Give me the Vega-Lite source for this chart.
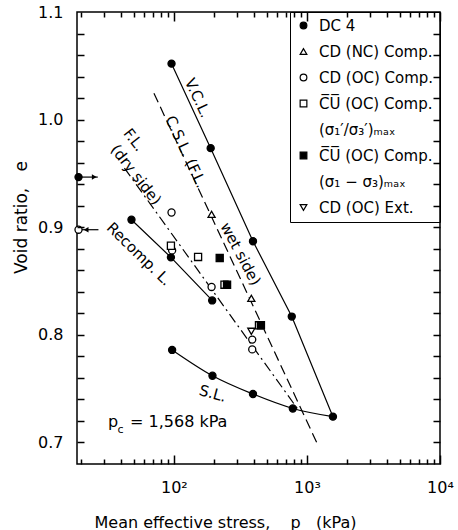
{
  "$schema": "https://vega.github.io/schema/vega-lite/v6.json",
  "width": 363,
  "height": 452,
  "autosize": {"type": "none"},
  "padding": {"left": 77, "top": 12, "right": 18, "bottom": 66},
  "background": "white",
  "config": {
    "view": {"stroke": "black", "strokeWidth": 1.5},
    "axis": {
      "domain": false, "grid": false, "tickColor": "black", "tickWidth": 1.5, "tickOpacity": 1,
      "labelColor": "black", "titleColor": "black", "labelFont": "DejaVu Sans",
      "titleFont": "DejaVu Sans", "titleFontWeight": "normal", "labelFlush": false, "labelOverlap": false
    },
    "legend": {
      "orient": "top-right", "offset": 0, "strokeColor": "black", "padding": 6, "rowPadding": 10,
      "labelFont": "DejaVu Sans", "labelColor": "black", "labelFontSize": 15, "labelOffset": 8,
      "symbolSize": 45, "symbolStrokeWidth": 1.2, "labelLimit": 300
    }
  },
  "datasets": {
    "lines": [
      {"line": "V.C.L.", "p": 96, "e": 1.052},
      {"line": "V.C.L.", "p": 189, "e": 0.9735},
      {"line": "V.C.L.", "p": 393, "e": 0.887},
      {"line": "V.C.L.", "p": 769, "e": 0.817},
      {"line": "V.C.L.", "p": 1568, "e": 0.724},
      {"line": "C.S.L.", "p": 70.8, "e": 1.0245},
      {"line": "C.S.L.", "p": 1220, "e": 0.6966},
      {"line": "F.L.", "p": 42.5, "e": 0.955},
      {"line": "F.L.", "p": 879, "e": 0.7288},
      {"line": "Recomp. L.", "p": 48, "e": 0.907},
      {"line": "Recomp. L.", "p": 95, "e": 0.872},
      {"line": "Recomp. L.", "p": 194, "e": 0.832},
      {"line": "S.L.", "p": 97, "e": 0.786},
      {"line": "S.L.", "p": 195, "e": 0.762},
      {"line": "S.L.", "p": 393, "e": 0.745},
      {"line": "S.L.", "p": 783, "e": 0.7316},
      {"line": "S.L.", "p": 1568, "e": 0.724}
    ],
    "points": [
      {"series": "DC 4", "p": 96, "e": 1.052},
      {"series": "DC 4", "p": 189, "e": 0.9735},
      {"series": "DC 4", "p": 393, "e": 0.887},
      {"series": "DC 4", "p": 769, "e": 0.817},
      {"series": "DC 4", "p": 1568, "e": 0.724},
      {"series": "DC 4", "p": 97, "e": 0.786},
      {"series": "DC 4", "p": 195, "e": 0.762},
      {"series": "DC 4", "p": 393, "e": 0.745},
      {"series": "DC 4", "p": 783, "e": 0.7316},
      {"series": "DC 4", "p": 48, "e": 0.907},
      {"series": "DC 4", "p": 95, "e": 0.872},
      {"series": "DC 4", "p": 194, "e": 0.832},
      {"series": "DC 4", "p": 19.2, "e": 0.9466},
      {"series": "CD (NC) Comp.", "p": 192, "e": 0.912},
      {"series": "CD (NC) Comp.", "p": 382, "e": 0.834},
      {"series": "CD (OC) Comp.", "p": 96, "e": 0.9137},
      {"series": "CD (OC) Comp.", "p": 97, "e": 0.8785},
      {"series": "CD (OC) Comp.", "p": 192, "e": 0.8445},
      {"series": "CD (OC) Comp.", "p": 388, "e": 0.7956},
      {"series": "CD (OC) Comp.", "p": 388, "e": 0.7865},
      {"series": "CD (OC) Comp.", "p": 19.2, "e": 0.8977},
      {"series": "C̅U̅ (OC) Comp. (σ₁′/σ₃′)ₘₐₓ", "p": 95, "e": 0.8828},
      {"series": "C̅U̅ (OC) Comp. (σ₁′/σ₃′)ₘₐₓ", "p": 152, "e": 0.8724},
      {"series": "C̅U̅ (OC) Comp. (σ₁′/σ₃′)ₘₐₓ", "p": 240, "e": 0.8466},
      {"series": "C̅U̅ (OC) Comp. (σ₁′/σ₃′)ₘₐₓ", "p": 436, "e": 0.8089},
      {"series": "C̅U̅ (OC) Comp. (σ₁ − σ₃)ₘₐₓ", "p": 221, "e": 0.8714},
      {"series": "C̅U̅ (OC) Comp. (σ₁ − σ₃)ₘₐₓ", "p": 251, "e": 0.8466},
      {"series": "C̅U̅ (OC) Comp. (σ₁ − σ₃)ₘₐₓ", "p": 451, "e": 0.8089},
      {"series": "CD (OC) Ext.", "p": 382, "e": 0.8033}
    ],
    "arrows": [
      {"marker": "DC 4", "p_from": 19.2, "p_to": 26.8, "p_head": 25.2, "e": 0.9466},
      {"marker": "CD (OC) Comp.", "p_from": 19.2, "p_to": 27.1, "p_head": 21.9, "e": 0.8977}
    ],
    "notes": [
      {"label": "V.C.L.", "p": 151.3, "e": 1.0202},
      {"label": "C.S.L. (F.L.", "p": 123.0, "e": 0.9701},
      {"label": "wet side)", "p": 316.6, "e": 0.8752},
      {"label": "F.L.", "p": 50.2, "e": 0.9812},
      {"label": "(dry side)", "p": 51.9, "e": 0.9487},
      {"label": "Recomp. L.", "p": 54.7, "e": 0.875},
      {"label": "S.L.", "p": 196, "e": 0.7455},
      {"label": "p", "p": 32.0, "e": 0.7144},
      {"label": "c", "p": 37.7, "e": 0.7084},
      {"label": "= 1,568 kPa", "p": 46.8, "e": 0.7144}
    ]
  },
  "layer": [
    {
      "data": {"name": "lines"},
      "transform": [{"filter": "datum.line == 'V.C.L.' || datum.line == 'Recomp. L.'"}],
      "mark": {"type": "line", "color": "black", "strokeWidth": 1.2},
      "encoding": {
        "x": {"field": "p", "type": "quantitative", "scale": {"type": "log", "domain": [18.7, 10000], "nice": false},
          "axis": {"orient": "bottom", "values": [100, 1000, 10000], "labelExpr": "datum.value == 100 ? '10²' : datum.value == 1000 ? '10³' : '10⁴'",
            "ticks": false, "labelFontSize": 16, "labelPadding": 15,
            "title": "Mean effective stress,\u00a0\u00a0\u00a0\u00a0p\u00a0\u00a0\u00a0(kPa)", "titleFontSize": 16, "titleX": 148, "titleY": 58, "titleAlign": "center", "titleBaseline": "middle"}},
        "y": {"field": "e", "type": "quantitative", "scale": {"domain": [0.68, 1.1], "nice": false, "zero": false},
          "axis": {"orient": "left", "values": [0.7, 0.8, 0.9, 1.0, 1.1], "format": ".1f", "ticks": false, "labelFontSize": 16, "labelPadding": 14,
            "title": "Void ratio,\u00a0\u00a0\u00a0e", "titleFontSize": 17, "titleX": -56, "titleY": 205, "titleAngle": -90, "titleAlign": "center", "titleBaseline": "middle"}},
        "detail": {"field": "line", "type": "nominal"}
      }
    },
    {
      "data": {"name": "lines"},
      "transform": [{"filter": "datum.line == 'C.S.L.'"}],
      "mark": {"type": "line", "color": "black", "strokeWidth": 1.2, "strokeDash": [10, 5]},
      "encoding": {
        "x": {"field": "p", "type": "quantitative", "scale": {"type": "log", "domain": [18.7, 10000], "nice": false},
          "axis": {"orient": "bottom", "values": [100, 1000, 10000], "labels": false, "tickSize": 9, "offset": -9, "title": null, "zindex": 1}},
        "y": {"field": "e", "type": "quantitative", "scale": {"domain": [0.68, 1.1], "nice": false, "zero": false},
          "axis": {"orient": "left", "values": [0.7, 0.72, 0.74, 0.76, 0.78, 0.8, 0.82, 0.84, 0.86, 0.88, 0.9, 0.92, 0.94, 0.96, 0.98, 1.0, 1.02, 1.04, 1.06, 1.08], "labels": false, "tickSize": 7, "offset": -7, "title": null, "zindex": 1}}
      }
    },
    {
      "data": {"name": "lines"},
      "transform": [{"filter": "datum.line == 'F.L.'"}],
      "mark": {"type": "line", "color": "black", "strokeWidth": 1.2, "strokeDash": [10, 4, 2, 4]},
      "encoding": {
        "x": {"field": "p", "type": "quantitative", "scale": {"type": "log", "domain": [18.7, 10000], "nice": false},
          "axis": {"orient": "bottom", "values": [20, 30, 40, 50, 60, 70, 80, 90, 200, 300, 400, 500, 600, 700, 800, 900, 2000, 3000, 4000, 5000, 6000, 7000, 8000, 9000], "labels": false, "tickSize": 5, "offset": -5, "title": null, "zindex": 1}},
        "y": {"field": "e", "type": "quantitative", "scale": {"domain": [0.68, 1.1], "nice": false, "zero": false},
          "axis": {"orient": "right", "values": [0.7, 0.72, 0.74, 0.76, 0.78, 0.8, 0.82, 0.84, 0.86, 0.88, 0.9, 0.92, 0.94, 0.96, 0.98, 1.0, 1.02, 1.04, 1.06, 1.08], "labels": false, "tickSize": 7, "offset": -7, "title": null, "zindex": 1}}
      }
    },
    {
      "data": {"name": "lines"},
      "transform": [{"filter": "datum.line == 'S.L.'"}],
      "mark": {"type": "line", "color": "black", "strokeWidth": 1.2, "interpolate": "monotone"},
      "encoding": {
        "x": {"field": "p", "type": "quantitative", "scale": {"type": "log", "domain": [18.7, 10000], "nice": false},
          "axis": {"orient": "top", "values": [100, 1000, 10000], "labels": false, "tickSize": 9, "offset": -9, "title": null, "zindex": 1}},
        "y": {"field": "e", "type": "quantitative", "scale": {"domain": [0.68, 1.1], "nice": false, "zero": false}, "axis": null}
      }
    },
    {
      "data": {"name": "arrows"},
      "mark": {"type": "rule", "color": "black", "strokeWidth": 1.2},
      "encoding": {
        "x": {"field": "p_from", "type": "quantitative", "scale": {"type": "log", "domain": [18.7, 10000], "nice": false},
          "axis": {"orient": "top", "values": [20, 30, 40, 50, 60, 70, 80, 90, 200, 300, 400, 500, 600, 700, 800, 900, 2000, 3000, 4000, 5000, 6000, 7000, 8000, 9000], "labels": false, "tickSize": 5, "offset": -5, "title": null, "zindex": 1}},
        "x2": {"field": "p_to"},
        "y": {"field": "e", "type": "quantitative", "scale": {"domain": [0.68, 1.1], "nice": false, "zero": false}, "axis": null}
      }
    },
    {
      "data": {"name": "arrows"},
      "transform": [{"filter": "datum.marker == 'DC 4'"}],
      "mark": {"type": "point", "shape": "triangle-right", "filled": true, "color": "black", "size": 30, "opacity": 1},
      "encoding": {
        "x": {"field": "p_head", "type": "quantitative", "scale": {"type": "log", "domain": [18.7, 10000], "nice": false}, "axis": null},
        "y": {"field": "e", "type": "quantitative", "scale": {"domain": [0.68, 1.1], "nice": false, "zero": false}, "axis": null}
      }
    },
    {
      "data": {"name": "arrows"},
      "transform": [{"filter": "datum.marker != 'DC 4'"}],
      "mark": {"type": "point", "shape": "triangle-left", "filled": true, "color": "black", "size": 30, "opacity": 1},
      "encoding": {
        "x": {"field": "p_head", "type": "quantitative", "scale": {"type": "log", "domain": [18.7, 10000], "nice": false}, "axis": null},
        "y": {"field": "e", "type": "quantitative", "scale": {"domain": [0.68, 1.1], "nice": false, "zero": false}, "axis": null}
      }
    },
    {
      "data": {"name": "points"},
      "mark": {"type": "point", "filled": true, "size": 50, "strokeWidth": 1.3, "opacity": 1},
      "encoding": {
        "x": {"field": "p", "type": "quantitative", "scale": {"type": "log", "domain": [18.7, 10000], "nice": false}, "axis": null},
        "y": {"field": "e", "type": "quantitative", "scale": {"domain": [0.68, 1.1], "nice": false, "zero": false}, "axis": null},
        "shape": {"field": "series", "type": "nominal",
          "scale": {"domain": ["DC 4", "CD (NC) Comp.", "CD (OC) Comp.", "C̅U̅ (OC) Comp. (σ₁′/σ₃′)ₘₐₓ", "(σ₁′/σ₃′)ₘₐₓ", "C̅U̅ (OC) Comp. (σ₁ − σ₃)ₘₐₓ", "(σ₁ − σ₃)ₘₐₓ", "CD (OC) Ext."],
            "range": ["circle", "triangle-up", "circle", "square", "circle", "square", "circle", "triangle-down"]},
          "legend": {"title": null,
            "labelExpr": "indexof(datum.label, 'C̅U̅') == 0 ? 'C̅U̅ (OC) Comp.' : indexof(datum.label, '(σ') == 0 ? '\u00a0\u00a0\u00a0' + datum.label : datum.label == 'CD (NC) Comp.' ? datum.label + '\u00a0\u00a0\u00a0\u00a0\u00a0\u00a0\u00a0\u00a0\u00a0' : datum.label"}},
        "fill": {"field": "series", "type": "nominal",
          "scale": {"domain": ["DC 4", "CD (NC) Comp.", "CD (OC) Comp.", "C̅U̅ (OC) Comp. (σ₁′/σ₃′)ₘₐₓ", "(σ₁′/σ₃′)ₘₐₓ", "C̅U̅ (OC) Comp. (σ₁ − σ₃)ₘₐₓ", "(σ₁ − σ₃)ₘₐₓ", "CD (OC) Ext."],
            "range": ["black", "white", "white", "white", "transparent", "black", "transparent", "white"]},
          "legend": {"title": null,
            "labelExpr": "indexof(datum.label, 'C̅U̅') == 0 ? 'C̅U̅ (OC) Comp.' : indexof(datum.label, '(σ') == 0 ? '\u00a0\u00a0\u00a0' + datum.label : datum.label == 'CD (NC) Comp.' ? datum.label + '\u00a0\u00a0\u00a0\u00a0\u00a0\u00a0\u00a0\u00a0\u00a0' : datum.label"}},
        "stroke": {"field": "series", "type": "nominal",
          "scale": {"domain": ["DC 4", "CD (NC) Comp.", "CD (OC) Comp.", "C̅U̅ (OC) Comp. (σ₁′/σ₃′)ₘₐₓ", "(σ₁′/σ₃′)ₘₐₓ", "C̅U̅ (OC) Comp. (σ₁ − σ₃)ₘₐₓ", "(σ₁ − σ₃)ₘₐₓ", "CD (OC) Ext."],
            "range": ["black", "black", "black", "black", "transparent", "black", "transparent", "black"]},
          "legend": {"title": null,
            "labelExpr": "indexof(datum.label, 'C̅U̅') == 0 ? 'C̅U̅ (OC) Comp.' : indexof(datum.label, '(σ') == 0 ? '\u00a0\u00a0\u00a0' + datum.label : datum.label == 'CD (NC) Comp.' ? datum.label + '\u00a0\u00a0\u00a0\u00a0\u00a0\u00a0\u00a0\u00a0\u00a0' : datum.label"}}
      }
    },
    {
      "data": {"name": "notes"},
      "transform": [{"filter": "datum.label == 'V.C.L.' || datum.label == 'C.S.L. (F.L.'"}],
      "mark": {"type": "text", "font": "DejaVu Sans", "fontSize": 15, "color": "black", "angle": 65, "align": "center", "baseline": "middle"},
      "encoding": {
        "x": {"field": "p", "type": "quantitative", "scale": {"type": "log", "domain": [18.7, 10000], "nice": false}, "axis": null},
        "y": {"field": "e", "type": "quantitative", "scale": {"domain": [0.68, 1.1], "nice": false, "zero": false}, "axis": null},
        "text": {"field": "label"}
      }
    },
    {
      "data": {"name": "notes"},
      "transform": [{"filter": "datum.label == 'wet side)'"}],
      "mark": {"type": "text", "font": "DejaVu Sans", "fontSize": 15, "color": "black", "angle": 62, "align": "center", "baseline": "middle"},
      "encoding": {
        "x": {"field": "p", "type": "quantitative", "scale": {"type": "log", "domain": [18.7, 10000], "nice": false}, "axis": null},
        "y": {"field": "e", "type": "quantitative", "scale": {"domain": [0.68, 1.1], "nice": false, "zero": false}, "axis": null},
        "text": {"field": "label"}
      }
    },
    {
      "data": {"name": "notes"},
      "transform": [{"filter": "datum.label == 'F.L.' || datum.label == '(dry side)'"}],
      "mark": {"type": "text", "font": "DejaVu Sans", "fontSize": 15, "color": "black", "angle": 52, "align": "center", "baseline": "middle"},
      "encoding": {
        "x": {"field": "p", "type": "quantitative", "scale": {"type": "log", "domain": [18.7, 10000], "nice": false}, "axis": null},
        "y": {"field": "e", "type": "quantitative", "scale": {"domain": [0.68, 1.1], "nice": false, "zero": false}, "axis": null},
        "text": {"field": "label"}
      }
    },
    {
      "data": {"name": "notes"},
      "transform": [{"filter": "datum.label == 'Recomp. L.'"}],
      "mark": {"type": "text", "font": "DejaVu Sans", "fontSize": 15, "color": "black", "angle": 44, "align": "center", "baseline": "middle"},
      "encoding": {
        "x": {"field": "p", "type": "quantitative", "scale": {"type": "log", "domain": [18.7, 10000], "nice": false}, "axis": null},
        "y": {"field": "e", "type": "quantitative", "scale": {"domain": [0.68, 1.1], "nice": false, "zero": false}, "axis": null},
        "text": {"field": "label"}
      }
    },
    {
      "data": {"name": "notes"},
      "transform": [{"filter": "datum.label == 'S.L.'"}],
      "mark": {"type": "text", "font": "DejaVu Sans", "fontSize": 15, "color": "black", "angle": 15, "align": "center", "baseline": "middle"},
      "encoding": {
        "x": {"field": "p", "type": "quantitative", "scale": {"type": "log", "domain": [18.7, 10000], "nice": false}, "axis": null},
        "y": {"field": "e", "type": "quantitative", "scale": {"domain": [0.68, 1.1], "nice": false, "zero": false}, "axis": null},
        "text": {"field": "label"}
      }
    },
    {
      "data": {"name": "notes"},
      "transform": [{"filter": "datum.label == 'p' || datum.label == '= 1,568 kPa'"}],
      "mark": {"type": "text", "font": "DejaVu Sans", "fontSize": 16, "color": "black", "align": "left", "baseline": "alphabetic"},
      "encoding": {
        "x": {"field": "p", "type": "quantitative", "scale": {"type": "log", "domain": [18.7, 10000], "nice": false}, "axis": null},
        "y": {"field": "e", "type": "quantitative", "scale": {"domain": [0.68, 1.1], "nice": false, "zero": false}, "axis": null},
        "text": {"field": "label"}
      }
    },
    {
      "data": {"name": "notes"},
      "transform": [{"filter": "datum.label == 'c'"}],
      "mark": {"type": "text", "font": "DejaVu Sans", "fontSize": 11, "color": "black", "align": "left", "baseline": "alphabetic"},
      "encoding": {
        "x": {"field": "p", "type": "quantitative", "scale": {"type": "log", "domain": [18.7, 10000], "nice": false}, "axis": null},
        "y": {"field": "e", "type": "quantitative", "scale": {"domain": [0.68, 1.1], "nice": false, "zero": false}, "axis": null},
        "text": {"field": "label"}
      }
    }
  ],
  "resolve": {"axis": {"x": "independent", "y": "independent"}}
}
